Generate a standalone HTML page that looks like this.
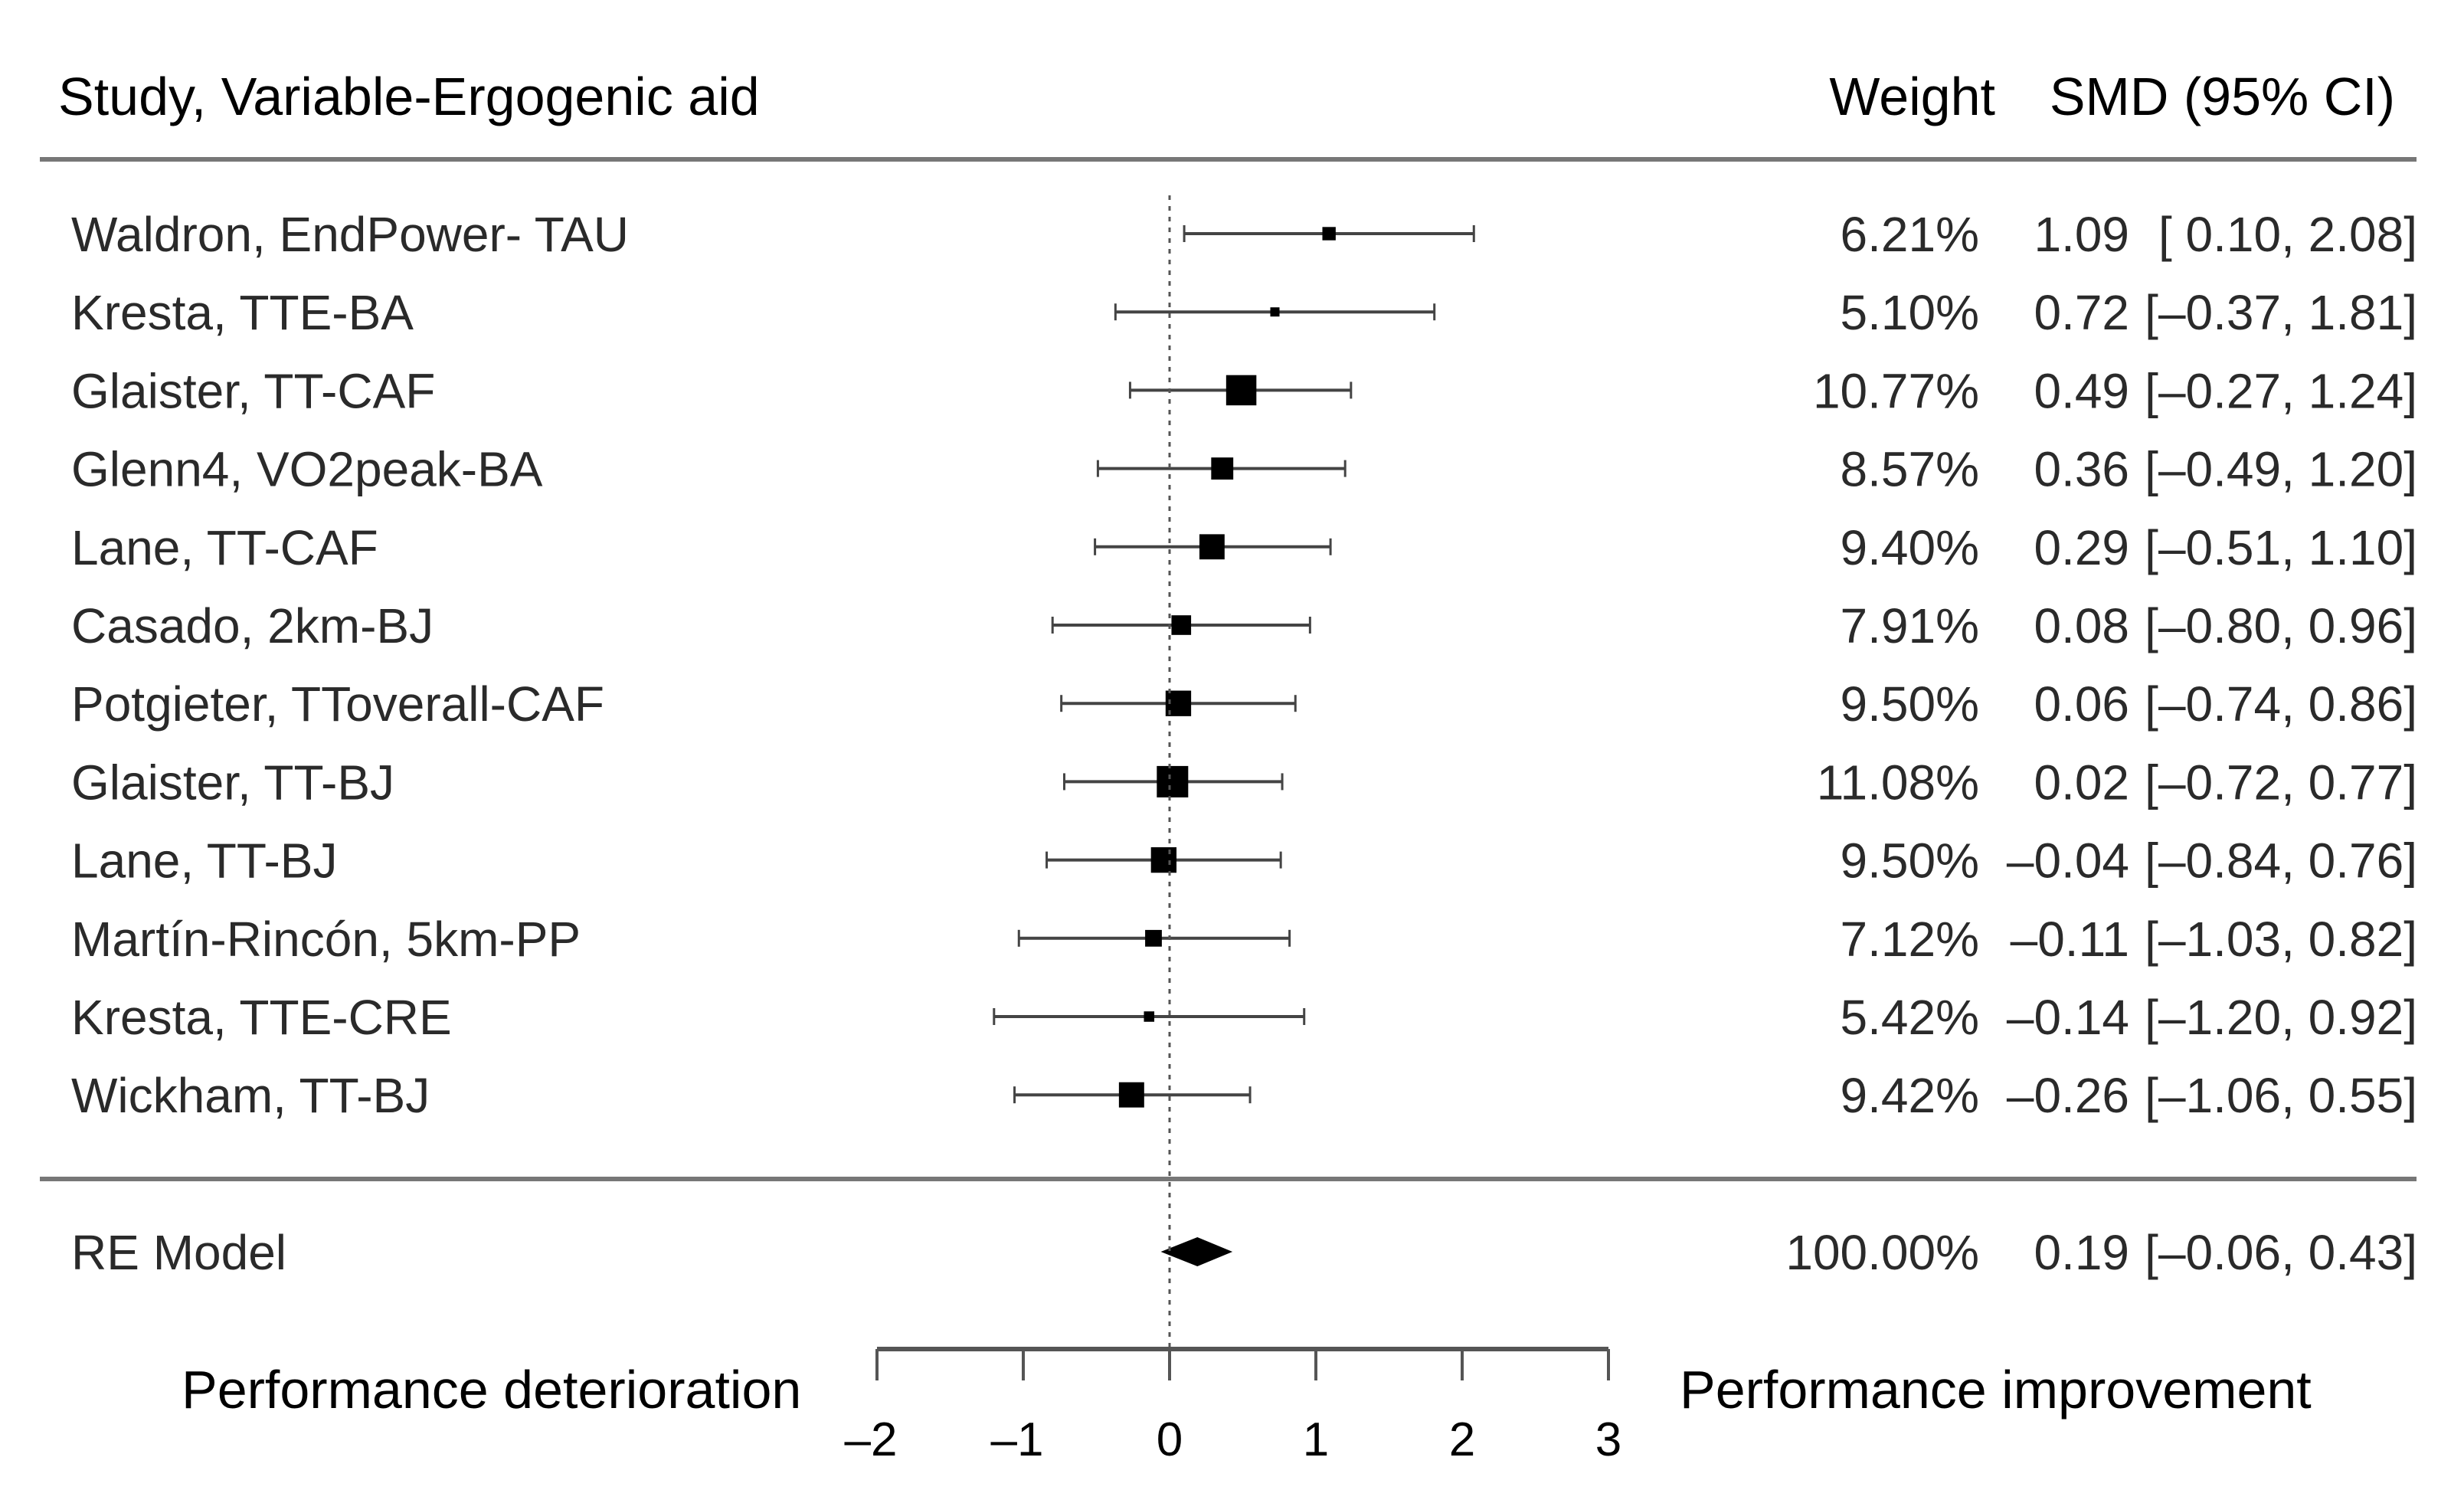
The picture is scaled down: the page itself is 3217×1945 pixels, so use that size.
<!DOCTYPE html>
<html><head><meta charset="utf-8"><style>
html,body{margin:0;padding:0;background:#fff;}
svg{display:block;font-family:"Liberation Sans",Arial,sans-serif;}
</style></head><body>
<svg id="chart" width="3217" height="1945" viewBox="0 0 3217 1945" xmlns="http://www.w3.org/2000/svg">
<rect width="3217" height="1945" fill="#fff"/>
<g>
<text x="76" y="150" font-size="70" fill="#000">Study, Variable-Ergogenic aid</text>
<text x="2605" y="150" font-size="70" fill="#000" text-anchor="end">Weight</text>
<text x="3127" y="150" font-size="70" fill="#000" text-anchor="end">SMD (95% CI)</text>
</g>
<line x1="52" y1="208" x2="3155" y2="208" stroke="#777" stroke-width="6"/>
<line x1="52" y1="1539" x2="3155" y2="1539" stroke="#777" stroke-width="6"/>
<g id="rows"></g>
<g id="axis"></g>
<text x="237" y="1838" font-size="70" fill="#000">Performance deterioration</text>
<text x="2193" y="1838" font-size="70" fill="#000">Performance improvement</text>
</svg>
<script>
const studies = ["Waldron, EndPower- TAU","Kresta, TTE-BA","Glaister, TT-CAF","Glenn4, VO2peak-BA","Lane, TT-CAF","Casado, 2km-BJ","Potgieter, TToverall-CAF","Glaister, TT-BJ","Lane, TT-BJ","Martín-Rincón, 5km-PP","Kresta, TTE-CRE","Wickham, TT-BJ"];
const estimates = [1.09,0.72,0.49,0.36,0.29,0.08,0.06,0.02,-0.04,-0.11,-0.14,-0.26];
const lower = [0.10,-0.37,-0.27,-0.49,-0.51,-0.80,-0.74,-0.72,-0.84,-1.03,-1.20,-1.06];
const upper = [2.08,1.81,1.24,1.20,1.10,0.96,0.86,0.77,0.76,0.82,0.92,0.55];
const weights = [6.21,5.10,10.77,8.57,9.40,7.91,9.50,11.08,9.50,7.12,5.42,9.42];
const reModel = [0.19,-0.06,0.43];
const ticks = [-2,-1,0,1,2,3];

const NS="http://www.w3.org/2000/svg";
const svg=document.getElementById('chart');
const rows=document.getElementById('rows');
const axisG=document.getElementById('axis');
const X0=1527, UNIT=191;
function xs(v){return X0+v*UNIT;}
function ys(i){return 305+i*102.2;}
function fmt(v){return (v<0?'–':'')+Math.abs(v).toFixed(2);}
function fmtCI(v){return (v<0?'–':' ')+Math.abs(v).toFixed(2);}
function mk(tag,attrs,parent){const e=document.createElementNS(NS,tag);for(const k in attrs)e.setAttribute(k,attrs[k]);parent.appendChild(e);return e;}
function txt(s,x,y,anchor,parent,size,fill){const t=mk('text',{x:x,y:y,'font-size':size||64,fill:fill||'#2a2a2a','text-anchor':anchor},parent);t.textContent=s;return t;}

const ref=mk('line',{x1:xs(0),y1:255,x2:xs(0),y2:1761,stroke:'#555','stroke-width':3,'stroke-dasharray':'6,8'},svg);



const wmin=Math.min(...weights), wmax=Math.max(...weights);
studies.forEach((s,i)=>{
  const y=ys(i);
  const g=mk('g',{},rows);
  
  
  const lbl=txt(s,93,y+23,'start',g);
  
  
  const ci=mk('line',{x1:xs(lower[i]),y1:y,x2:xs(upper[i]),y2:y,stroke:'#444','stroke-width':4},g);
  
  
  [lower[i],upper[i]].forEach(v=>{
    const c=mk('line',{x1:xs(v),y1:y-11,x2:xs(v),y2:y+11,stroke:'#444','stroke-width':3},g);
    
    
  });
  const side=12+(weights[i]-wmin)/(wmax-wmin)*29;
  const sq=mk('rect',{x:xs(estimates[i])-side/2,y:y-side/2,width:side,height:side,fill:'#000'},g);
  
  
  const w=txt(weights[i].toFixed(2)+'%',2584,y+23,'end',g);
  
  
  const e=txt(fmt(estimates[i]),2780,y+23,'end',g);
  
  
  const c2=txt('['+fmtCI(lower[i])+', '+upper[i].toFixed(2)+']',3156,y+23,'end',g);
  
  
});

const yr=1634;
const reg=mk('g',{},rows);


const rl=txt('RE Model',93,yr+23,'start',reg);


const dia=mk('polygon',{points:[xs(reModel[1])+','+yr, xs(reModel[0])+','+(yr-19), xs(reModel[2])+','+yr, xs(reModel[0])+','+(yr+19)].join(' '),fill:'#000'},reg);


const rw=txt('100.00%',2584,yr+23,'end',reg);


const re=txt(fmt(reModel[0]),2780,yr+23,'end',reg);


const rc=txt('['+fmtCI(reModel[1])+', '+reModel[2].toFixed(2)+']',3156,yr+23,'end',reg);



const al=mk('line',{x1:xs(ticks[0]),y1:1761,x2:xs(ticks[ticks.length-1]),y2:1761,stroke:'#555','stroke-width':6},axisG);


ticks.forEach(t=>{
  const tk=mk('line',{x1:xs(t),y1:1761,x2:xs(t),y2:1802,stroke:'#555','stroke-width':4},axisG);
  
  
  const tl=txt((t<0?'–':'')+Math.abs(t),xs(t)+(t<0?-8:0),1900,'middle',axisG,62,'#000');
  
  
});
</script>
</body></html>
